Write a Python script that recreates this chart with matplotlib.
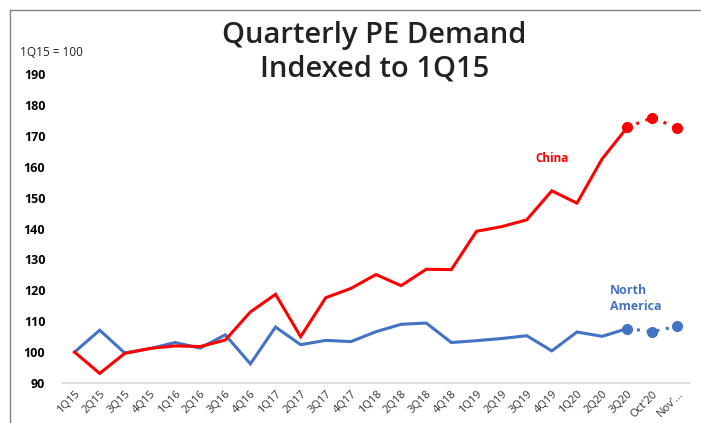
import matplotlib.pyplot as plt
from matplotlib.lines import Line2D

plt.rcParams['font.family'] = ['Open Sans', 'DejaVu Sans']

QUARTERS = ['1Q15', '2Q15', '3Q15', '4Q15', '1Q16', '2Q16', '3Q16', '4Q16',
            '1Q17', '2Q17', '3Q17', '4Q17', '1Q18', '2Q18', '3Q18', '4Q18',
            '1Q19', '2Q19', '3Q19', '4Q19', '1Q20', '2Q20', '3Q20']
MONTHLY = ["Oct'20", "Nov'..."]

china_q = [100, 93.1, 99.6, 101.2, 102.0, 101.8, 103.9, 113.0, 118.7, 105.0,
           117.6, 120.6, 125.1, 121.5, 126.8, 126.7, 139.1, 140.6, 142.8,
           152.2, 148.2, 162.5, 172.7]
china_m = [175.9, 172.5]

na_q = [100, 107.1, 99.7, 101.1, 103.1, 101.3, 105.6, 96.2, 108.1, 102.4,
        103.8, 103.4, 106.6, 109.0, 109.4, 103.1, 103.7, 104.4, 105.3,
        100.4, 106.5, 105.1, 107.6]
na_m = [106.6, 108.4]

RED = '#FF0000'
BLUE = '#4472C4'

labels = QUARTERS + MONTHLY
xq = list(range(len(QUARTERS)))
xm = list(range(len(QUARTERS) - 1, len(labels)))

fig = plt.figure(figsize=(7.01, 4.23), dpi=100)
ax = fig.add_axes([62 / 701, 40 / 423, 628 / 701, 309 / 423])

for q, m, c in [(na_q, na_m, BLUE), (china_q, china_m, RED)]:
    ax.plot(xq, q, color=c, linewidth=2.2, solid_joinstyle='miter')
    ax.plot(xm, [q[-1]] + m, color=c, linewidth=2.2, linestyle=(0, (1, 2.2)),
            marker='o', markersize=7)

ax.set_xlim(-0.5, len(labels) - 0.5)
ax.set_ylim(90, 190)
ax.set_yticks(range(90, 191, 10))
ax.set_xticks(range(len(labels)))
ax.set_xticklabels(labels, rotation=45, ha='right', rotation_mode='anchor',
                   fontsize=8, color='#333333')
ax.tick_params(axis='x', length=0, pad=4)
ax.tick_params(axis='y', length=0, pad=12, labelsize=9)
for t in ax.get_yticklabels():
    t.set_fontweight('bold')

for s in ['top', 'right', 'left']:
    ax.spines[s].set_visible(False)
ax.spines['bottom'].set_color('#D9D9D9')
ax.spines['bottom'].set_linewidth(1.2)

ax.text(19.0, 162.5, 'China', color=RED, fontsize=8.5, fontweight='bold',
        ha='center', va='center')
ax.text(21.3, 117.3, 'North\nAmerica', color=BLUE, fontsize=9,
        fontweight='bold', ha='left', va='center', linespacing=1.3)

fig.text(374.5 / 701, 1 - 52 / 423, 'Quarterly PE Demand\nIndexed to 1Q15',
         ha='center', va='center', fontsize=21, color='#222222',
         fontweight='semibold', linespacing=1.2)
fig.text(20 / 701, 1 - 52 / 423, '1Q15 = 100', ha='left', va='center',
         fontsize=8.5, color='#222222')

# frame edges visible at the top and left of the slide
fig.add_artist(Line2D([10 / 701, 1], [1 - 10 / 423] * 2, color='#808080',
                      linewidth=1, transform=fig.transFigure))
fig.add_artist(Line2D([10 / 701] * 2, [0, 1 - 10 / 423], color='#808080',
                      linewidth=1, transform=fig.transFigure))

fig.savefig('out.png', dpi=100)
